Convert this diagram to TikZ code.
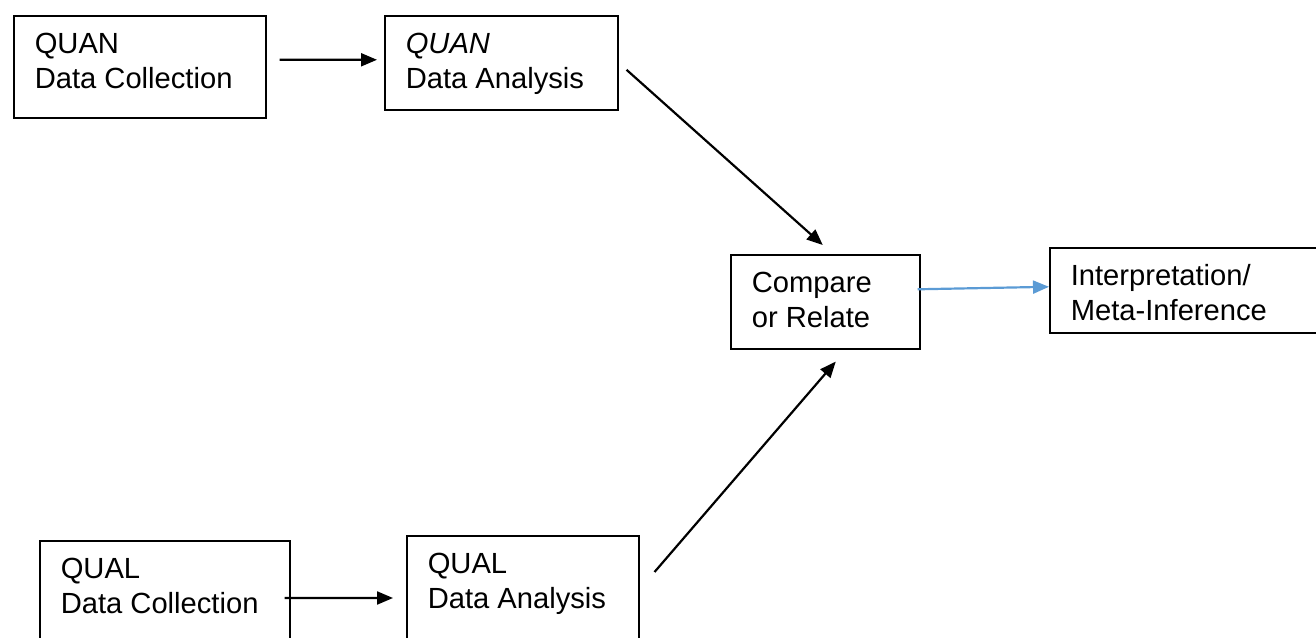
\documentclass[tikz,border=0pt]{standalone}
\usepackage{fontspec}
\setmainfont{Liberation Sans}
\usetikzlibrary{arrows.meta,positioning}
\definecolor{linkblue}{HTML}{5B9BD5}

\begin{document}
\begin{tikzpicture}[x=0.02cm, y=-0.02cm,
    >={Triangle[length=0.32cm,width=0.26cm]},
    blk/.style={draw, line width=0.9pt, anchor=north west,
      inner xsep=0.42cm, inner ysep=0pt, text height=0.76cm,
      font=\fontsize{16.6pt}{19.9pt}\selectfont},
    flow/.style={->, line width=1.25pt}]
   \useasboundingbox (0,0) rectangle (1316,637);
   \clip (0,0) rectangle (1316,637);

   \node [blk, text depth=1.28cm] (QnColl) at (13,15)   {\parbox[t]{4.20cm}{QUAN\\Data Collection}};
   \node [blk, text depth=1.12cm] (QnAna)  at (384,15)  {\parbox[t]{3.82cm}{\textit{QUAN}\\Data Analysis}};
   \node [blk, text depth=1.12cm] (Comp)   at (730,254) {\parbox[t]{2.94cm}{Compare\\or Relate}};
   \node [blk, text depth=0.94cm] (Interp) at (1049,247) {\parbox[t]{5.16cm}{Interpretation/\\Meta-Inference}};
   \node [blk, text depth=1.60cm] (QlColl) at (39,540)  {\parbox[t]{4.16cm}{QUAL\\Data Collection}};
   \node [blk, text depth=1.60cm] (QlAna)  at (406,535) {\parbox[t]{3.80cm}{QUAL\\Data Analysis}};

   % quan strand
   \draw[flow] ([xshift=0.26cm,yshift=0.14cm]QnColl.east) -- ([xshift=-0.14cm,yshift=0.06cm]QnAna.west);
   \draw[flow] ([xshift=0.16cm,yshift=-0.14cm]QnAna.east) -- ([xshift=-0.05cm,yshift=0.18cm]Comp.north);
   % qual strand
   \draw[flow] ([xshift=-0.12cm,yshift=-1.16cm]QlColl.north east) -- ([xshift=-0.26cm,yshift=-1.26cm]QlAna.north west);
   \draw[flow] ([xshift=0.30cm,yshift=-0.74cm]QlAna.north east) -- ([xshift=0.21cm,yshift=-0.24cm]Comp.south);
   % merge
   \draw[flow, linkblue] ([xshift=-0.06cm,yshift=0.25cm]Comp.east) -- ([yshift=0.07cm]Interp.west);
\end{tikzpicture}
\end{document}
